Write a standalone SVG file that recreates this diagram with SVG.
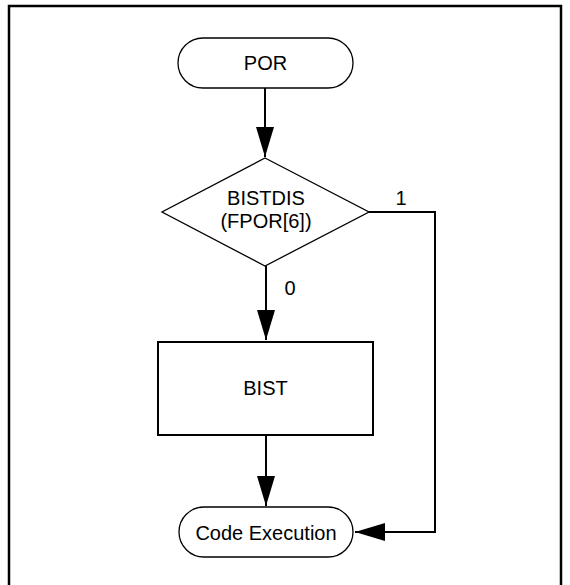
<svg xmlns="http://www.w3.org/2000/svg" width="570" height="585" viewBox="0 0 570 585">
<style>
.t{font-family:"Liberation Sans",Arial,sans-serif;font-size:20px;fill:#000;text-anchor:middle}
.n{fill:#fff;stroke:#000;stroke-width:1.3}
.c{fill:none;stroke:#000;stroke-width:2}
</style>
<defs>
<marker id="ah" markerUnits="userSpaceOnUse" markerWidth="32" markerHeight="18" refX="30" refY="9" orient="auto">
<path d="M0,0 L30,9 L0,18 Z" fill="#000"/>
</marker>
</defs>
<rect x="9" y="6" width="552" height="590" fill="none" stroke="#000" stroke-width="2.5"/>
<g id="connectors">
<line class="c" x1="265" y1="88" x2="265" y2="157" marker-end="url(#ah)"/>
<line class="c" x1="266" y1="266" x2="266" y2="340" marker-end="url(#ah)"/>
<line class="c" x1="266" y1="435" x2="266" y2="506" marker-end="url(#ah)"/>
<polyline class="c" points="369,212 435,212 435,532 355,532" marker-end="url(#ah)"/>
<text class="t" x="401" y="205">1</text>
<text class="t" x="290" y="295">0</text>
</g>
<g id="por">
<rect class="n" x="178" y="38" width="175" height="50" rx="25" ry="25"/>
<text class="t" x="265.5" y="70">POR</text>
</g>
<g id="bistdis">
<polygon class="n" points="265,158 369,212 265,266 162,212"/>
<text class="t" x="266" y="205">BISTDIS</text>
<text class="t" x="266" y="228">(FPOR[6])</text>
</g>
<g id="bist">
<rect x="158" y="342" width="215" height="93" fill="#fff" stroke="#000" stroke-width="2"/>
<text class="t" x="265.5" y="395">BIST</text>
</g>
<g id="code">
<rect class="n" x="179" y="507" width="174" height="50" rx="25" ry="25"/>
<text class="t" x="266" y="540">Code Execution</text>
</g>
</svg>
